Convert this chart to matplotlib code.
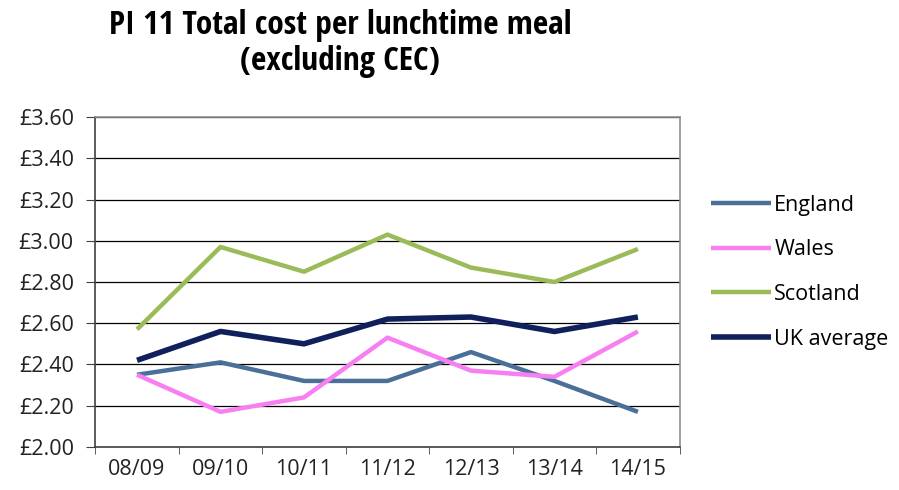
import matplotlib.pyplot as plt
from matplotlib.ticker import FuncFormatter, FixedLocator

years = ['08/09', '09/10', '10/11', '11/12', '12/13', '13/14', '14/15']
england = [2.35, 2.41, 2.32, 2.32, 2.46, 2.32, 2.17]
wales = [2.35, 2.17, 2.24, 2.53, 2.37, 2.34, 2.56]
scotland = [2.57, 2.97, 2.85, 3.03, 2.87, 2.80, 2.96]
uk_average = [2.42, 2.56, 2.50, 2.62, 2.63, 2.56, 2.63]

plt.rcParams['font.family'] = ['Open Sans', 'DejaVu Sans']

fig = plt.figure(figsize=(8.99, 4.90), dpi=100)
ax = fig.add_axes([0.106, 0.088, 0.65, 0.673])

x = range(len(years))
ax.plot(x, england, color='#4a7099', lw=3.2, label='England', solid_capstyle='butt')
ax.plot(x, wales, color='#f77ff2', lw=3.2, label='Wales', solid_capstyle='butt')
ax.plot(x, scotland, color='#9bbb59', lw=3.2, label='Scotland', solid_capstyle='butt')
ax.plot(x, uk_average, color='#10205c', lw=4, label='UK average', solid_capstyle='butt')

ax.set_xlim(-0.5, len(years) - 0.5)
ax.set_ylim(2.0, 3.6)
ax.set_yticks([2.0 + 0.2 * i for i in range(9)])
ax.yaxis.set_major_formatter(FuncFormatter(lambda v, p: '£%.2f' % v))
ax.yaxis.grid(True, color='#000000', lw=0.9)
ax.set_axisbelow(True)

ax.set_xticks(list(x))
ax.set_xticklabels(years)
ax.xaxis.set_minor_locator(FixedLocator([i - 0.5 for i in range(len(years) + 1)]))
ax.tick_params(axis='x', which='major', length=0, pad=9)
ax.tick_params(axis='x', which='minor', length=5, color='#404040')
ax.tick_params(axis='y', length=6.5, color='#404040', pad=9)
ax.tick_params(labelsize=15.5, labelcolor='#222222')

for side, s in ax.spines.items():
    s.set_color('#404040' if side in ('left', 'bottom') else '#909090')
    s.set_linewidth(1.2)

leg = ax.legend(loc='center left', bbox_to_anchor=(1.02, 0.53), frameon=False,
                fontsize=15.5, handlelength=2.8, handletextpad=0.15, labelspacing=1.1)

title_font = ['Open Sans Condensed', 'Open Sans', 'DejaVu Sans']
fig.text(0.378, 0.948, 'PI 11 Total cost per lunchtime meal', ha='center', va='center',
         fontsize=24, fontweight='bold', family=title_font)
fig.text(0.378, 0.875, '(excluding CEC)', ha='center', va='center',
         fontsize=24, fontweight='bold', family=title_font)

fig.savefig('out.png', dpi=100)
